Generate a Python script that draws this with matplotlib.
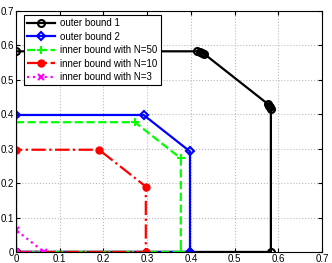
import numpy as np
import matplotlib
matplotlib.use('Agg')
import matplotlib.pyplot as plt

# region vertices (rate pairs), closed polygons
ob1_x = [0, 0, 0.415, 0.42, 0.425, 0.43, 0.576, 0.579, 0.582, 0.583, 0.583, 0]
ob1_y = [0, 0.583, 0.583, 0.582, 0.579, 0.576, 0.43, 0.425, 0.42, 0.415, 0, 0]
ob2_x = [0, 0, 0.292, 0.398, 0.398, 0]
ob2_y = [0, 0.398, 0.398, 0.292, 0, 0]
n50_x = [0, 0, 0.272, 0.377, 0.377, 0]
n50_y = [0, 0.377, 0.377, 0.272, 0, 0]
n10_x = [0, 0, 0.19, 0.297, 0.297, 0]
n10_y = [0, 0.297, 0.297, 0.19, 0, 0]
n3_x = [0, 0, 0.064, 0]
n3_y = [0, 0.064, 0, 0]
ticks = [0, 0.1, 0.2, 0.3, 0.4, 0.5, 0.6, 0.7]
tick_labels = ['0', '0.1', '0.2', '0.3', '0.4', '0.5', '0.6', '0.7']

plt.rcParams['font.family'] = 'Liberation Sans'
fig = plt.figure(figsize=(3.32, 2.63), dpi=100)
ax = fig.add_axes([0.048, 0.042, 0.922, 0.916])

ax.plot(ob1_x, ob1_y, 'k-o', lw=1.6, ms=5, mfc='none', mew=1.5, label='outer bound 1')
ax.plot(ob2_x, ob2_y, 'b-D', lw=1.6, ms=4, mfc='none', mew=1.5, label='outer bound 2')
ax.plot(n50_x, n50_y, '--+', color='#00ff00', lw=1.6, ms=6, mew=1.5, label='inner bound with N=50')
ax.plot(n10_x, n10_y, '-.o', color='red', lw=1.6, ms=5, label='inner bound with N=10')
ax.plot(n3_x, n3_y, ':x', color='magenta', lw=1.6, ms=4, mew=1.5, label='inner bound with N=3')

ax.set_xlim(0, 0.7)
ax.set_ylim(0, 0.7)
ax.set_xticks(ticks)
ax.set_yticks(ticks)
ax.set_xticklabels(tick_labels)
ax.set_yticklabels(tick_labels)
ax.tick_params(direction='in', top=True, right=True, labelsize=7, pad=1.5, length=3)
ax.grid(True, linestyle=':', color='#bbbbbb', lw=0.8)
for s in ax.spines.values():
    s.set_linewidth(0.8)

leg = ax.legend(loc='upper left', fontsize=7, fancybox=False, framealpha=1,
                edgecolor='black', handlelength=2.9, handletextpad=0.5,
                borderpad=0.35, labelspacing=0.35, borderaxespad=0,
                bbox_to_anchor=(0.026, 0.984))
leg.get_frame().set_linewidth(0.8)

fig.savefig('out.png', dpi=100)
